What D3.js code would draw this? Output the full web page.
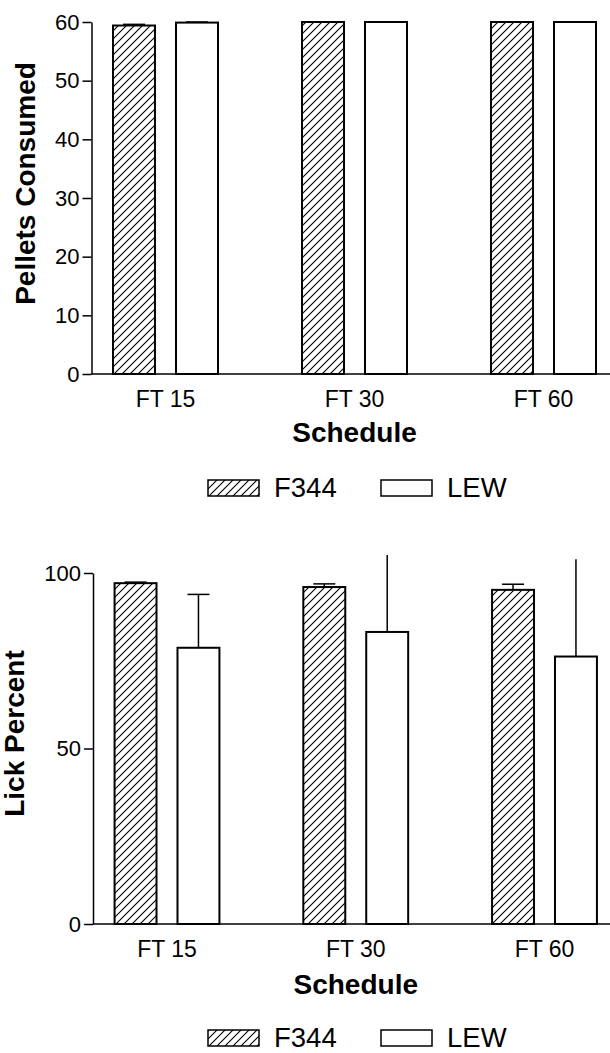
<!DOCTYPE html>
<html><head><meta charset="utf-8">
<script src="https://cdn.jsdelivr.net/npm/d3@7"></script>
<style>
html,body{margin:0;padding:0;background:#fff;}
svg{display:block;font-family:"Liberation Sans",Arial,Helvetica,sans-serif;}
</style></head>
<body>
<svg id="c" width="610" height="1053"></svg>
<script>
const categories = ["FT 15", "FT 30", "FT 60"];
const series = ["F344", "LEW"];
// Panel 1: Pellets Consumed
const pelletsF344 = [59.4, 60.0, 60.0];
const pelletsF344Err = [0.2, 0.0, 0.0];
const pelletsLEW = [59.9, 60.0, 60.0];
const pelletsLEWErr = [0.1, 0.0, 0.0];
const pelletsTicks = [0, 10, 20, 30, 40, 50, 60];
// Panel 2: Lick Percent
const lickF344 = [97.1, 96.0, 95.2];
const lickF344Err = [0.3, 0.9, 1.6];
const lickLEW = [78.7, 83.2, 76.2];
const lickLEWErr = [15.2, 21.9, 27.7];
const lickTicks = [0, 50, 100];

const svg = d3.select("#c");
const defs = svg.append("defs");
const pat = defs.append("pattern").attr("id","hatch").attr("patternUnits","userSpaceOnUse")
  .attr("width",8).attr("height",8);
pat.append("path").attr("d","M0,8 L8,0 M-2,2 L2,-2 M6,10 L10,6")
  .attr("stroke","#000").attr("stroke-width",1.1).attr("fill","none");

function panel(o){
  const g = svg.append("g");
  const y = d3.scaleLinear().domain([0, o.ymax]).range([o.y0, o.y1]);
  const x = d3.scaleBand().domain(categories).range([o.xc0 - o.step/2, o.xc0 - o.step/2 + o.step*categories.length]);
  const xs = d3.scaleBand().domain(series).range([0, x.bandwidth()]).paddingInner(1/3).paddingOuter(2/3);
  const data = [];
  categories.forEach((c,i)=>{
    data.push({c, s:"F344", v:o.f[i], e:o.fe[i]});
    data.push({c, s:"LEW", v:o.l[i], e:o.le[i]});
  });
  const eg = g.append("g").attr("stroke","#000").attr("stroke-width",1.5);
  data.forEach(d=>{
    if(d.e<=0) return;
    const cx = x(d.c)+xs(d.s)+xs.bandwidth()/2;
    const top = d.v + d.e;
    eg.append("line").attr("x1",cx).attr("x2",cx).attr("y1",y(d.v)).attr("y2",y(top));
    if(top <= o.ymax){
      eg.append("line").attr("x1",cx-11).attr("x2",cx+11).attr("y1",y(top)).attr("y2",y(top));
    }
  });
  g.append("g").selectAll("rect").data(data).join("rect")
    .attr("x", d=>x(d.c)+xs(d.s))
    .attr("y", d=>y(d.v))
    .attr("width", xs.bandwidth())
    .attr("height", d=>y(0)-y(d.v))
    .attr("fill", d=> d.s==="F344" ? "url(#hatch)" : "#fff")
    .attr("stroke","#000").attr("stroke-width",2);
  const ya = g.append("g").attr("transform",`translate(${o.ax},0)`)
    .call(d3.axisLeft(y).tickValues(o.ticks).tickSize(9).tickSizeOuter(0).tickPadding(3));
  ya.select(".domain").attr("stroke-width",1.5);
  ya.selectAll(".tick line").attr("stroke-width",1.5);
  ya.selectAll("text").attr("font-size",22).attr("font-family","Liberation Sans, Arial, sans-serif").attr("fill","#000");
  g.append("line").attr("x1",o.ax).attr("x2",610).attr("y1",y(0)).attr("y2",y(0))
    .attr("stroke","#000").attr("stroke-width",1.5);
  const xa = g.append("g").attr("transform",`translate(0,${y(0)})`)
    .call(d3.axisBottom(x).tickSize(0).tickPadding(o.catPad));
  xa.select(".domain").remove();
  xa.selectAll("text").attr("font-size",23).attr("font-family","Liberation Sans, Arial, sans-serif").attr("fill","#000");
  g.append("text").attr("x", o.xc0 + o.step).attr("y", o.xtY).attr("text-anchor","middle")
    .attr("font-size",28).attr("font-weight","bold").text("Schedule");
  g.append("text").attr("transform",`translate(${o.ytX},${o.ytY}) rotate(-90)`).attr("text-anchor","middle")
    .attr("font-size",28).attr("font-weight","bold").text(o.ytitle);
  const lg = g.append("g").attr("transform",`translate(0,${o.legY})`);
  lg.append("rect").attr("x",208).attr("y",-17).attr("width",51).attr("height",16)
    .attr("fill","url(#hatch)").attr("stroke","#000").attr("stroke-width",1.5);
  lg.append("text").attr("x",274).attr("y",0).attr("font-size",27.5).text(series[0]);
  lg.append("rect").attr("x",381).attr("y",-17).attr("width",51).attr("height",16)
    .attr("fill","#fff").attr("stroke","#000").attr("stroke-width",1.5);
  lg.append("text").attr("x",447).attr("y",0).attr("font-size",27.5).text(series[1]);
}

panel({ymax:60, y0:374, y1:22, xc0:165.5, step:189, ax:91.5, ticks:pelletsTicks,
  f:pelletsF344, fe:pelletsF344Err, l:pelletsLEW, le:pelletsLEWErr,
  catPad:17, xtY:442, ytX:35, ytY:183.5, ytitle:"Pellets Consumed", legY:497});
panel({ymax:100, y0:924, y1:573, xc0:167, step:188.75, ax:93, ticks:lickTicks,
  f:lickF344, fe:lickF344Err, l:lickLEW, le:lickLEWErr,
  catPad:17, xtY:994, ytX:24, ytY:733.5, ytitle:"Lick Percent", legY:1047});
</script>
</body></html>
